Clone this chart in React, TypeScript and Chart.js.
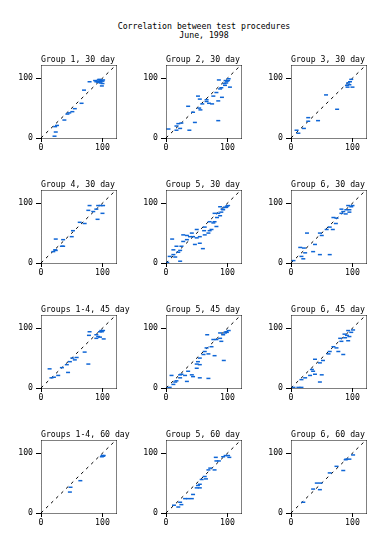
import React, { useEffect, useRef } from "react";
import { Chart, registerables } from "chart.js";

Chart.register(...registerables);

const MAIN_TITLE = ["Correlation between test procedures", "June, 1998"];
const PANEL_TITLES = [
  "Group 1, 30 day", "Group 2, 30 day", "Group 3, 30 day",
  "Group 4, 30 day", "Group 5, 30 day", "Group 6, 30 day",
  "Groups 1-4, 45 day", "Group 5, 45 day", "Group 6, 45 day",
  "Groups 1-4, 60 day", "Group 5, 60 day", "Group 6, 60 day",
];
const TICKS = [0, 100];
const AXIS_MIN = 0;
const AXIS_MAX = 122;

const G1_30 = [[22,3],[24,10],[23,19],[26,21],[38,30],[43,40],[46,42],[51,44],[55,49],[66,58],[70,80],[79,94],[88,96],[92,95],[94,97],[96,94],[98,96],[100,95],[97,92],[100,91],[99,87],[95,98],[93,93],[101,97],[90,94]];
const G2_30 = [[4,15],[17,20],[20,24],[25,25],[17,13],[23,16],[38,13],[47,26],[36,53],[44,43],[54,50],[56,47],[52,70],[55,65],[59,57],[66,61],[70,58],[75,57],[85,62],[91,68],[77,70],[66,64],[82,76],[88,82],[90,84],[85,29],[96,88],[98,92],[101,96],[97,96],[102,99],[86,97],[95,91],[104,85],[99,95]];
const G3_30 = [[9,13],[12,8],[21,16],[28,34],[28,28],[44,29],[57,72],[75,48],[91,88],[95,89],[92,85],[98,98],[100,85],[93,92],[96,94]];
const G4_30 = [[20,19],[23,22],[24,21],[24,40],[34,28],[36,39],[36,28],[50,44],[52,54],[63,68],[71,66],[77,88],[79,96],[85,86],[90,90],[93,96],[97,96],[101,96],[100,83],[92,73]];
const G5_30 = [[2,1],[6,11],[12,14],[15,10],[20,18],[23,21],[12,22],[17,28],[25,28],[28,36],[23,3],[10,40],[28,47],[34,46],[39,44],[44,44],[50,42],[55,44],[55,33],[60,24],[63,47],[69,50],[71,54],[63,60],[71,69],[77,67],[82,61],[79,69],[88,79],[85,83],[90,85],[93,89],[96,93],[101,96],[98,93],[88,94],[79,83],[83,76],[74,56],[62,54],[50,56],[42,50],[34,39],[47,31],[92,90],[99,95]];
const G6_30 = [[4,4],[17,11],[20,7],[23,17],[15,26],[21,25],[26,50],[36,19],[47,14],[63,14],[39,31],[47,50],[50,46],[58,56],[63,60],[68,56],[73,66],[74,75],[69,76],[82,83],[85,86],[90,89],[93,96],[98,94],[100,96],[95,89],[89,82],[95,85],[82,90]];
const G14_45 = [[14,32],[17,17],[21,18],[28,21],[34,34],[44,26],[42,39],[47,44],[51,50],[58,51],[55,47],[71,60],[77,40],[78,88],[79,94],[90,89],[93,86],[96,94],[98,96],[101,96],[102,82],[90,83],[96,85],[99,94]];
const G5_45 = [[2,0],[6,1],[9,21],[12,6],[15,10],[17,12],[23,17],[23,22],[25,23],[31,21],[36,28],[34,11],[42,22],[44,19],[55,17],[69,16],[50,40],[52,44],[55,50],[61,56],[63,61],[69,57],[66,67],[74,69],[79,54],[77,81],[82,81],[88,83],[90,78],[93,89],[96,92],[98,94],[102,96],[88,92],[67,89],[94,46],[55,39],[50,33],[99,93]];
const G6_45 = [[4,1],[12,1],[17,1],[17,14],[23,17],[31,21],[36,28],[39,23],[50,22],[47,10],[34,31],[39,48],[47,42],[52,46],[61,57],[63,61],[69,69],[74,67],[77,61],[85,56],[82,78],[88,84],[93,79],[91,88],[98,93],[93,96],[101,97],[87,90],[95,86],[80,83]];
const G14_60 = [[47,35],[48,43],[64,54],[100,96],[101,95],[102,96],[99,94]];
const G5_60 = [[13,13],[20,10],[23,18],[25,14],[31,24],[36,24],[42,24],[44,31],[50,42],[52,46],[55,48],[58,56],[63,61],[65,57],[69,72],[72,75],[79,72],[82,87],[86,87],[81,93],[93,94],[97,96],[101,96],[103,93],[55,42]];
const G6_60 = [[20,18],[36,40],[42,50],[47,39],[48,50],[63,67],[74,78],[85,71],[90,90],[95,90],[101,97],[89,89]];

const PANEL_DATA = [G1_30, G2_30, G3_30, G4_30, G5_30, G6_30, G14_45, G5_45, G6_45, G14_60, G5_60, G6_60];

const FONT_FAMILY = '"DejaVu Sans Mono", monospace';
const FONT_SIZE = 8.2;
const POINT_COLOR = "#0f66d6";

function Panel({ index }: { index: number }) {
  const ref = useRef<HTMLCanvasElement | null>(null);
  useEffect(() => {
    if (!ref.current) return;
    const title = PANEL_TITLES[index];
    const framePlugin = {
      id: "frame",
      afterDraw(chart: any) {
        const { ctx, chartArea } = chart;
        const l = Math.round(chartArea.left) + 0.5;
        const r = Math.round(chartArea.right) + 0.5;
        const t = Math.round(chartArea.top) + 0.5;
        const b = Math.round(chartArea.bottom) + 0.5;
        ctx.save();
        ctx.strokeStyle = "#000";
        ctx.lineWidth = 1;
        ctx.setLineDash([1, 1]);
        ctx.beginPath();
        ctx.moveTo(l, t); ctx.lineTo(r, t);
        ctx.moveTo(r, t); ctx.lineTo(r, b);
        ctx.moveTo(l, b); ctx.lineTo(r, b);
        ctx.moveTo(l, t); ctx.lineTo(l, b);
        ctx.stroke();
        ctx.setLineDash([]);
        ctx.fillStyle = "#000";
        ctx.font = `${FONT_SIZE}px ${FONT_FAMILY}`;
        ctx.textAlign = "left";
        ctx.textBaseline = "bottom";
        ctx.fillText(title, chartArea.left, chartArea.top - 1.5);
        ctx.restore();
      },
    };
    const tickFont = { family: FONT_FAMILY, size: FONT_SIZE };
    const chart = new Chart(ref.current, {
      type: "scatter",
      data: {
        datasets: [
          {
            data: PANEL_DATA[index].map(([x, y]) => ({ x, y })),
            pointStyle: "line",
            pointRadius: 2,
            pointBorderWidth: 1.5,
            borderColor: POINT_COLOR,
            backgroundColor: POINT_COLOR,
          } as any,
          {
            type: "line",
            data: [
              { x: AXIS_MIN, y: AXIS_MIN },
              { x: AXIS_MAX, y: AXIS_MAX },
            ],
            borderColor: "#000",
            borderWidth: 1,
            borderDash: [3, 4],
            pointRadius: 0,
            showLine: true,
          } as any,
        ],
      },
      options: {
        animation: false,
        responsive: false,
        maintainAspectRatio: false,
        events: [],
        layout: { padding: { top: 15, right: 19, left: 0, bottom: 0 } },
        plugins: { legend: { display: false }, tooltip: { enabled: false }, title: { display: false } },
        scales: {
          x: {
            type: "linear",
            min: AXIS_MIN,
            max: AXIS_MAX,
            afterBuildTicks: (s: any) => { s.ticks = TICKS.map((v) => ({ value: v })); },
            afterFit: (s: any) => { s.height = 22; },
            grid: { drawOnChartArea: false, drawTicks: true, tickLength: 4, color: "#000" },
            border: { display: false },
            ticks: { font: tickFont, color: "#000", padding: 1, maxRotation: 0, autoSkip: false },
          },
          y: {
            type: "linear",
            min: AXIS_MIN,
            max: AXIS_MAX,
            afterBuildTicks: (s: any) => { s.ticks = TICKS.map((v) => ({ value: v })); },
            afterFit: (s: any) => { s.width = 41; },
            grid: { drawOnChartArea: false, drawTicks: true, tickLength: 5, color: "#000" },
            border: { display: false },
            ticks: { font: tickFont, color: "#000", padding: 3, autoSkip: false },
          },
        },
      },
      plugins: [framePlugin],
    } as any);
    return () => chart.destroy();
  }, [index]);
  const col = index % 3;
  const row = Math.floor(index / 3);
  return (
    <canvas
      ref={ref}
      width={135}
      height={110}
      style={{ position: "absolute", left: 125 * col, top: 50 + 125 * row, width: 135, height: 110 }}
    />
  );
}

export default function App() {
  return (
    <div style={{ position: "absolute", left: 0, top: 0, width: 386, height: 540, background: "#fff", overflow: "hidden" }}>
      <div
        style={{
          position: "absolute",
          left: 104,
          top: 21.5,
          width: 200,
          textAlign: "center",
          fontFamily: FONT_FAMILY,
          fontSize: FONT_SIZE,
          lineHeight: "9.5px",
          color: "#000",
          whiteSpace: "pre",
        }}
      >
        {MAIN_TITLE[0]}
        {"\n"}
        {MAIN_TITLE[1]}
      </div>
      {PANEL_TITLES.map((_, i) => (
        <Panel key={i} index={i} />
      ))}
    </div>
  );
}
